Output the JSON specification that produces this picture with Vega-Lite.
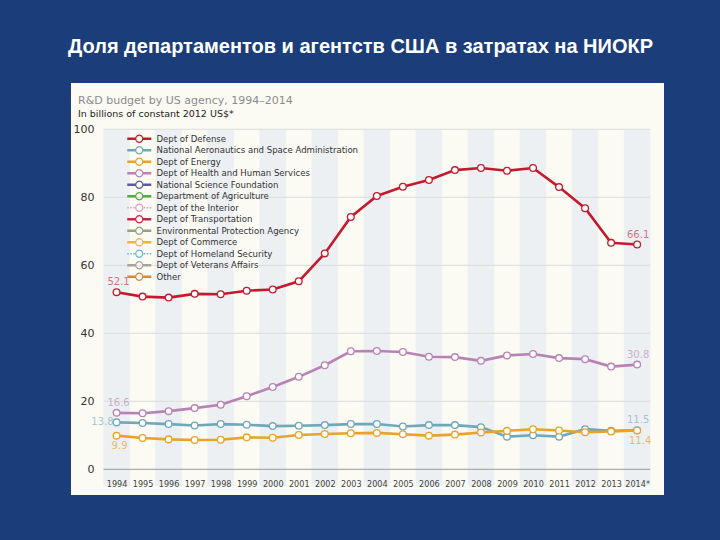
{
  "$schema": "https://vega.github.io/schema/vega-lite/v6.json",
  "background": "#1b3d7a",
  "padding": {"left": 67, "right": 56, "top": 37, "bottom": 45},
  "config": {"view": {"stroke": null, "fill": "#fbfaf3"}, "axis": {"labelOverlap": false, "labelSeparation": 0}},
  "title": {"text": "Доля департаментов и агентств США в затратах на НИОКР", "color": "white", "font": "Liberation Sans", "fontSize": 20, "fontWeight": "bold", "anchor": "middle", "offset": 26, "dx": -7},
  "datasets": {
    "rd": [
      {"year": 1994, "agency": "Dept of Defense", "value": 52.1},
      {"year": 1995, "agency": "Dept of Defense", "value": 50.8},
      {"year": 1996, "agency": "Dept of Defense", "value": 50.5},
      {"year": 1997, "agency": "Dept of Defense", "value": 51.6},
      {"year": 1998, "agency": "Dept of Defense", "value": 51.5},
      {"year": 1999, "agency": "Dept of Defense", "value": 52.5},
      {"year": 2000, "agency": "Dept of Defense", "value": 52.9},
      {"year": 2001, "agency": "Dept of Defense", "value": 55.3},
      {"year": 2002, "agency": "Dept of Defense", "value": 63.5},
      {"year": 2003, "agency": "Dept of Defense", "value": 74.2},
      {"year": 2004, "agency": "Dept of Defense", "value": 80.4},
      {"year": 2005, "agency": "Dept of Defense", "value": 83.1},
      {"year": 2006, "agency": "Dept of Defense", "value": 85.1},
      {"year": 2007, "agency": "Dept of Defense", "value": 88.0},
      {"year": 2008, "agency": "Dept of Defense", "value": 88.6},
      {"year": 2009, "agency": "Dept of Defense", "value": 87.8},
      {"year": 2010, "agency": "Dept of Defense", "value": 88.6},
      {"year": 2011, "agency": "Dept of Defense", "value": 83.0},
      {"year": 2012, "agency": "Dept of Defense", "value": 76.8},
      {"year": 2013, "agency": "Dept of Defense", "value": 66.6},
      {"year": 2014, "agency": "Dept of Defense", "value": 66.1},
      {"year": 1994, "agency": "Dept of Health and Human Services", "value": 16.6},
      {"year": 1995, "agency": "Dept of Health and Human Services", "value": 16.5},
      {"year": 1996, "agency": "Dept of Health and Human Services", "value": 17.1},
      {"year": 1997, "agency": "Dept of Health and Human Services", "value": 18.0},
      {"year": 1998, "agency": "Dept of Health and Human Services", "value": 19.0},
      {"year": 1999, "agency": "Dept of Health and Human Services", "value": 21.5},
      {"year": 2000, "agency": "Dept of Health and Human Services", "value": 24.2},
      {"year": 2001, "agency": "Dept of Health and Human Services", "value": 27.2},
      {"year": 2002, "agency": "Dept of Health and Human Services", "value": 30.6},
      {"year": 2003, "agency": "Dept of Health and Human Services", "value": 34.7},
      {"year": 2004, "agency": "Dept of Health and Human Services", "value": 34.8},
      {"year": 2005, "agency": "Dept of Health and Human Services", "value": 34.5},
      {"year": 2006, "agency": "Dept of Health and Human Services", "value": 33.1},
      {"year": 2007, "agency": "Dept of Health and Human Services", "value": 33.0},
      {"year": 2008, "agency": "Dept of Health and Human Services", "value": 31.9},
      {"year": 2009, "agency": "Dept of Health and Human Services", "value": 33.5},
      {"year": 2010, "agency": "Dept of Health and Human Services", "value": 33.9},
      {"year": 2011, "agency": "Dept of Health and Human Services", "value": 32.7},
      {"year": 2012, "agency": "Dept of Health and Human Services", "value": 32.4},
      {"year": 2013, "agency": "Dept of Health and Human Services", "value": 30.2},
      {"year": 2014, "agency": "Dept of Health and Human Services", "value": 30.8},
      {"year": 1994, "agency": "National Aeronautics and Space Administration", "value": 13.8},
      {"year": 1995, "agency": "National Aeronautics and Space Administration", "value": 13.6},
      {"year": 1996, "agency": "National Aeronautics and Space Administration", "value": 13.3},
      {"year": 1997, "agency": "National Aeronautics and Space Administration", "value": 12.9},
      {"year": 1998, "agency": "National Aeronautics and Space Administration", "value": 13.3},
      {"year": 1999, "agency": "National Aeronautics and Space Administration", "value": 13.1},
      {"year": 2000, "agency": "National Aeronautics and Space Administration", "value": 12.7},
      {"year": 2001, "agency": "National Aeronautics and Space Administration", "value": 12.8},
      {"year": 2002, "agency": "National Aeronautics and Space Administration", "value": 13.0},
      {"year": 2003, "agency": "National Aeronautics and Space Administration", "value": 13.3},
      {"year": 2004, "agency": "National Aeronautics and Space Administration", "value": 13.3},
      {"year": 2005, "agency": "National Aeronautics and Space Administration", "value": 12.6},
      {"year": 2006, "agency": "National Aeronautics and Space Administration", "value": 13.0},
      {"year": 2007, "agency": "National Aeronautics and Space Administration", "value": 13.0},
      {"year": 2008, "agency": "National Aeronautics and Space Administration", "value": 12.4},
      {"year": 2009, "agency": "National Aeronautics and Space Administration", "value": 9.6},
      {"year": 2010, "agency": "National Aeronautics and Space Administration", "value": 10.0},
      {"year": 2011, "agency": "National Aeronautics and Space Administration", "value": 9.6},
      {"year": 2012, "agency": "National Aeronautics and Space Administration", "value": 11.8},
      {"year": 2013, "agency": "National Aeronautics and Space Administration", "value": 11.3},
      {"year": 2014, "agency": "National Aeronautics and Space Administration", "value": 11.5},
      {"year": 1994, "agency": "Dept of Energy", "value": 9.9},
      {"year": 1995, "agency": "Dept of Energy", "value": 9.2},
      {"year": 1996, "agency": "Dept of Energy", "value": 8.8},
      {"year": 1997, "agency": "Dept of Energy", "value": 8.6},
      {"year": 1998, "agency": "Dept of Energy", "value": 8.7},
      {"year": 1999, "agency": "Dept of Energy", "value": 9.4},
      {"year": 2000, "agency": "Dept of Energy", "value": 9.3},
      {"year": 2001, "agency": "Dept of Energy", "value": 10.1},
      {"year": 2002, "agency": "Dept of Energy", "value": 10.4},
      {"year": 2003, "agency": "Dept of Energy", "value": 10.6},
      {"year": 2004, "agency": "Dept of Energy", "value": 10.7},
      {"year": 2005, "agency": "Dept of Energy", "value": 10.3},
      {"year": 2006, "agency": "Dept of Energy", "value": 9.9},
      {"year": 2007, "agency": "Dept of Energy", "value": 10.2},
      {"year": 2008, "agency": "Dept of Energy", "value": 10.8},
      {"year": 2009, "agency": "Dept of Energy", "value": 11.3},
      {"year": 2010, "agency": "Dept of Energy", "value": 11.8},
      {"year": 2011, "agency": "Dept of Energy", "value": 11.4},
      {"year": 2012, "agency": "Dept of Energy", "value": 10.9},
      {"year": 2013, "agency": "Dept of Energy", "value": 11.1},
      {"year": 2014, "agency": "Dept of Energy", "value": 11.4}
    ],
    "bands": [
      {"year": 1994}, {"year": 1996}, {"year": 1998}, {"year": 2000}, {"year": 2002}, {"year": 2004},
      {"year": 2006}, {"year": 2008}, {"year": 2010}, {"year": 2012}, {"year": 2014}
    ],
    "grid": [{"v": 20}, {"v": 40}, {"v": 60}, {"v": 80}, {"v": 100}]
  },
  "vconcat": [
    {
      "width": 593,
      "height": 412,
      "title": {
        "text": "R&D budget by US agency, 1994–2014",
        "subtitle": "In billions of constant 2012 US$*",
        "anchor": "start", "frame": "group", "dx": 7, "offset": -35,
        "font": "DejaVu Sans", "fontSize": 11, "fontWeight": "normal", "color": "#8c8c8c",
        "subtitleFont": "DejaVu Sans", "subtitleFontSize": 9.5, "subtitleColor": "#222222", "subtitlePadding": 3
      },
      "layer": [
        {
          "data": {"name": "bands"},
          "mark": {"type": "bar", "orient": "vertical", "size": 26.5, "color": "#edf0f3"},
          "encoding": {
            "x": {"field": "year", "type": "quantitative", "scale": {"domain": [1992.442, 2014.84], "nice": false, "zero": false},
                  "axis": {"values": [1994,1995,1996,1997,1998,1999,2000,2001,2002,2003,2004,2005,2006,2007,2008,2009,2010,2011,2012,2013,2014],
                           "tickCount": 22, "tickMinStep": 1,
                           "labelExpr": "datum.value == 2014 ? '2014*' : '' + datum.value", "title": null, "grid": false, "ticks": false, "domain": false,
                           "labelOverlap": false, "labelSeparation": 0, "labelFlush": false, "zindex": 2,
                           "offset": -26, "labelPadding": 10, "labelFont": "DejaVu Sans Condensed", "labelFontSize": 9, "labelColor": "#444444"}},
            "y": {"datum": -5, "type": "quantitative", "scale": {"domain": [-7.56, 113.62], "nice": false, "zero": false},
                  "axis": {"values": [0,20,40,60,80,100], "title": null, "grid": false, "ticks": false, "domain": false, "zindex": 2,
                           "offset": -28, "labelPadding": 5, "labelFont": "DejaVu Sans", "labelFontSize": 11, "labelColor": "#333333"}},
            "y2": {"datum": 100}
          }
        },
        {
          "data": {"name": "grid"},
          "mark": {"type": "rule", "color": "#dcdcdc", "strokeWidth": 1},
          "encoding": {
            "y": {"field": "v", "type": "quantitative"},
            "x": {"datum": 1993.5},
            "x2": {"datum": 2014.5}
          }
        },
        {
          "data": {"values": [{"v": 0}]},
          "mark": {"type": "rule", "color": "#9a9a9a", "strokeWidth": 1},
          "encoding": {
            "y": {"field": "v", "type": "quantitative"},
            "x": {"datum": 1993.5},
            "x2": {"datum": 2014.5}
          }
        },
        {
          "data": {"name": "rd"},
          "mark": {"type": "line", "strokeWidth": 2.6},
          "encoding": {
            "x": {"field": "year", "type": "quantitative"},
            "y": {"field": "value", "type": "quantitative"},
            "color": {
              "field": "agency", "type": "nominal",
              "scale": {
                "domain": ["Dept of Defense", "National Aeronautics and Space Administration", "Dept of Energy", "Dept of Health and Human Services", "National Science Foundation", "Department of Agriculture", "Dept of the Interior", "Dept of Transportation", "Environmental Protection Agency", "Dept of Commerce", "Dept of Homeland Security", "Dept of Veterans Affairs", "Other"],
                "range": ["#c41a2e", "#6fa8b8", "#eaa22a", "#b982b5", "#5b5b9e", "#55aa44", "#d89cc8", "#c0284e", "#9aa080", "#f0b43c", "#6ab4dc", "#a8a49c", "#d08c3c"]
              },
              "legend": {
                "title": null, "orient": "none", "legendX": 63.5, "legendY": 51, "padding": 0,
                "symbolType": "M-3.43,-0.371H-1.086V0.371H-3.43Z M1.086,-0.371H3.43V0.371H1.086Z M1.2,0L1.039,0.6L0.6,1.039L0,1.2L-0.6,1.039L-1.039,0.6L-1.2,0L-1.039,-0.6L-0.6,-1.039L0,-1.2L0.6,-1.039L1.039,-0.6Z M0.857,0L0.742,-0.429L0.429,-0.742L0,-0.857L-0.429,-0.742L-0.742,-0.429L-0.857,0L-0.742,0.429L-0.429,0.742L0,0.857L0.429,0.742L0.742,0.429Z",
                "symbolSize": 49, "symbolStrokeWidth": 0,
                "labelFont": "DejaVu Sans Condensed", "labelFontSize": 9.5, "labelColor": "#333333", "labelOffset": 12.5, "labelLimit": 400,
                "rowPadding": 0.5,
                "encode": {"symbols": {"update": {
                  "fill": {"scale": "color", "field": "value"}, "fillOpacity": {"value": 1}, "strokeWidth": {"value": 0},
                  "shape": {"signal": "indexof(['Dept of the Interior','Dept of Homeland Security'], datum.value) >= 0 ? 'M-3.43,-0.229H-3V0.229H-3.43Z M-2.571,-0.229H-2.143V0.229H-2.571Z M-1.714,-0.229H-1.286V0.229H-1.714Z M1.286,-0.229H1.714V0.229H1.286Z M2.143,-0.229H2.571V0.229H2.143Z M3,-0.229H3.43V0.229H3Z M1.2,0L1.039,0.6L0.6,1.039L0,1.2L-0.6,1.039L-1.039,0.6L-1.2,0L-1.039,-0.6L-0.6,-1.039L0,-1.2L0.6,-1.039L1.039,-0.6Z M0.857,0L0.742,-0.429L0.429,-0.742L0,-0.857L-0.429,-0.742L-0.742,-0.429L-0.857,0L-0.742,0.429L-0.429,0.742L0,0.857L0.429,0.742L0.742,0.429Z' : 'M-3.43,-0.371H-1.086V0.371H-3.43Z M1.086,-0.371H3.43V0.371H1.086Z M1.2,0L1.039,0.6L0.6,1.039L0,1.2L-0.6,1.039L-1.039,0.6L-1.2,0L-1.039,-0.6L-0.6,-1.039L0,-1.2L0.6,-1.039L1.039,-0.6Z M0.857,0L0.742,-0.429L0.429,-0.742L0,-0.857L-0.429,-0.742L-0.742,-0.429L-0.857,0L-0.742,0.429L-0.429,0.742L0,0.857L0.429,0.742L0.742,0.429Z'"}
                }}}
              }
            },
            "detail": {"field": "agency"}
          }
        },
        {
          "data": {"name": "rd"},
          "mark": {"type": "point", "shape": "circle", "filled": false, "fill": "white", "fillOpacity": 1, "size": 45, "strokeWidth": 1.3, "opacity": 1},
          "encoding": {
            "x": {"field": "year", "type": "quantitative"},
            "y": {"field": "value", "type": "quantitative"},
            "color": {"field": "agency", "type": "nominal", "legend": null}
          }
        },
        {
          "data": {"name": "rd"},
          "transform": [{"filter": {"and": [{"field": "year", "equal": 1994}, {"field": "agency", "oneOf": ["Dept of Defense", "Dept of Health and Human Services"]}]}}],
          "mark": {"type": "text", "font": "DejaVu Sans", "fontSize": 10, "dx": 2, "dy": -10, "opacity": 0.6},
          "encoding": {
            "x": {"field": "year", "type": "quantitative"},
            "y": {"field": "value", "type": "quantitative"},
            "text": {"field": "value", "type": "quantitative", "format": ".1f"},
            "color": {"field": "agency", "type": "nominal", "legend": null}
          }
        },
        {
          "data": {"name": "rd"},
          "transform": [{"filter": {"and": [{"field": "year", "equal": 2014}, {"field": "agency", "oneOf": ["Dept of Defense", "Dept of Health and Human Services", "National Aeronautics and Space Administration"]}]}}],
          "mark": {"type": "text", "font": "DejaVu Sans", "fontSize": 10, "dx": 1, "dy": -10, "opacity": 0.6},
          "encoding": {
            "x": {"field": "year", "type": "quantitative"},
            "y": {"field": "value", "type": "quantitative"},
            "text": {"field": "value", "type": "quantitative", "format": ".1f"},
            "color": {"field": "agency", "type": "nominal", "legend": null}
          }
        },
        {
          "data": {"name": "rd"},
          "transform": [{"filter": {"and": [{"field": "year", "equal": 1994}, {"field": "agency", "equal": "National Aeronautics and Space Administration"}]}}],
          "mark": {"type": "text", "font": "DejaVu Sans", "fontSize": 10, "align": "right", "dx": -3, "dy": 0, "opacity": 0.6},
          "encoding": {
            "x": {"field": "year", "type": "quantitative"},
            "y": {"field": "value", "type": "quantitative"},
            "text": {"field": "value", "type": "quantitative", "format": ".1f"},
            "color": {"field": "agency", "type": "nominal", "legend": null}
          }
        },
        {
          "data": {"name": "rd"},
          "transform": [{"filter": {"and": [{"field": "year", "oneOf": [1994, 2014]}, {"field": "agency", "equal": "Dept of Energy"}]}}],
          "mark": {"type": "text", "font": "DejaVu Sans", "fontSize": 10, "dx": 3, "dy": 10, "opacity": 0.7},
          "encoding": {
            "x": {"field": "year", "type": "quantitative"},
            "y": {"field": "value", "type": "quantitative"},
            "text": {"field": "value", "type": "quantitative", "format": ".1f"},
            "color": {"field": "agency", "type": "nominal", "legend": null}
          }
        }
      ]
    }
  ]
}
